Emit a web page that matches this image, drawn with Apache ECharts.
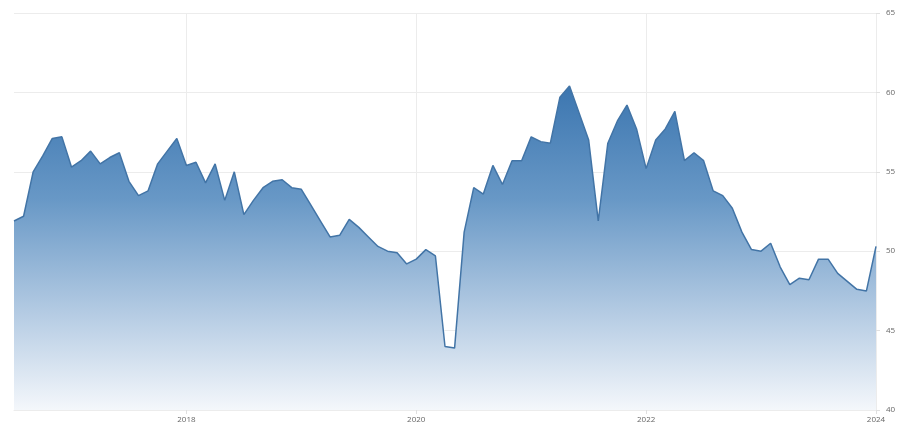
<!DOCTYPE html>
<html>
<head>
<meta charset="utf-8">
<script src="https://cdn.jsdelivr.net/npm/echarts@6/dist/echarts.min.js"></script>
<style>html,body{margin:0;padding:0;background:#fff}#c{width:900px;height:434px}</style>
</head>
<body>
<div id="c"></div>
<script>
// Monthly values, Jul 2016 .. Jan 2024
const startYear = 2016, startMonth = 7;
const values = [
  51.9, 52.2, 55.0, 56.0, 57.1, 57.2,
  55.3, 55.7, 56.3, 55.5, 55.9, 56.2, 54.4, 53.5, 53.8, 55.5, 56.3, 57.1,
  55.4, 55.6, 54.3, 55.5, 53.2, 55.0, 52.3, 53.2, 54.0, 54.4, 54.5, 54.0,
  53.9, 52.9, 51.9, 50.9, 51.0, 52.0, 51.5, 50.9, 50.3, 50.0, 49.9, 49.2,
  49.5, 50.1, 49.7, 44.0, 43.9, 51.2, 54.0, 53.6, 55.4, 54.2, 55.7, 55.7,
  57.2, 56.9, 56.8, 59.7, 60.4, 58.7, 57.0, 51.9, 56.8, 58.2, 59.2, 57.7,
  55.2, 57.0, 57.7, 58.8, 55.7, 56.2, 55.7, 53.8, 53.5, 52.7, 51.2, 50.1,
  50.0, 50.5, 49.0, 47.9, 48.3, 48.2, 49.5, 49.5, 48.6, 48.1, 47.6, 47.5,
  50.3
];
const categories = values.map((v, i) => {
  const m = startMonth - 1 + i;
  const y = startYear + Math.floor(m / 12);
  const mm = (m % 12) + 1;
  return y + '-' + (mm < 10 ? '0' + mm : mm);
});
const yTicks = { min: 40, max: 65, step: 5 };

const isMajor = (idx, val) => {
  const c = categories[idx];
  return c.endsWith('-01') && parseInt(c.slice(0, 4)) % 2 === 0;
};

const chart = echarts.init(document.getElementById('c'), null, { renderer: 'canvas' });
chart.setOption({
  animation: false,
  backgroundColor: '#ffffff',
  grid: { left: 14, right: 24, top: 13, bottom: 24, containLabel: false },
  xAxis: {
    type: 'category',
    data: categories,
    boundaryGap: false,
    axisLine: { show: true, lineStyle: { color: '#ececec', width: 1 } },
    axisTick: { show: true, interval: isMajor, length: 4, lineStyle: { color: '#e0e0e0' } },
    axisLabel: {
      interval: isMajor,
      formatter: v => v.slice(0, 4),
      color: '#666',
      fontSize: 8,
      fontFamily: 'Liberation Sans Narrow, Open Sans, sans-serif',
      margin: 6
    },
    splitLine: { show: true, interval: isMajor, lineStyle: { color: '#ececec', width: 1 } }
  },
  yAxis: {
    type: 'value',
    position: 'right',
    min: yTicks.min,
    max: yTicks.max,
    interval: yTicks.step,
    axisLine: { show: false },
    axisTick: { show: true, length: 4, lineStyle: { color: '#e0e0e0' } },
    axisLabel: {
      color: '#666',
      fontSize: 8,
      fontFamily: 'Liberation Sans Narrow, Open Sans, sans-serif',
      margin: 10
    },
    splitLine: { show: true, lineStyle: { color: '#ececec', width: 1 } }
  },
  series: [{
    type: 'line',
    data: values,
    symbol: 'none',
    smooth: false,
    lineStyle: { color: '#4274a6', width: 1.5 },
    areaStyle: {
      origin: 'start',
      opacity: 1,
      color: new echarts.graphic.LinearGradient(0, 0, 0, 1, [
        { offset: 0, color: 'rgb(60,118,176)' },
        { offset: 0.35, color: 'rgb(104,152,198)' },
        { offset: 0.7, color: 'rgb(180,203,227)' },
        { offset: 1, color: 'rgb(244,247,251)' }
      ])
    }
  }]
});
</script>
</body>
</html>
